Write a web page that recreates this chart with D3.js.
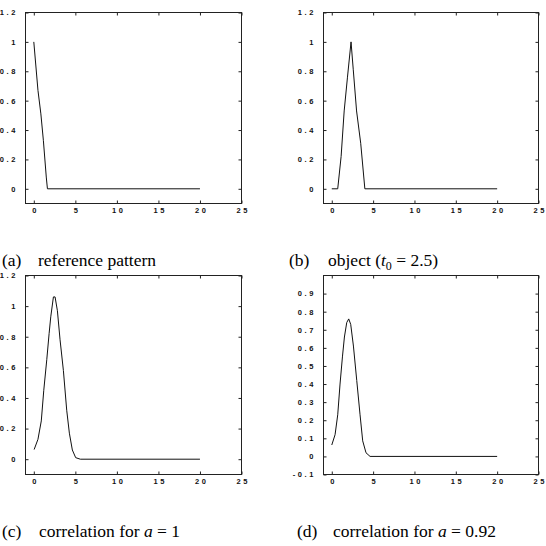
<html><head>
<meta charset="utf-8">
<script src="https://d3js.org/d3.v7.min.js"></script>
<style>
  body { margin: 0; background: #fff; }
  .tick text { font-family: "Liberation Sans", Arial, sans-serif; font-size: 7.5px; font-weight: bold; letter-spacing: 2.6px; fill: #111; }
  .cap { font-family: "Liberation Serif", "Times New Roman", serif; font-size: 17.5px; fill: #000; }
</style>
</head>
<body>
<div id="chart"></div>
<script>

// ---- data ----
var xTicks = [0, 5, 10, 15, 20, 25];
var yTicksA = [0, 0.2, 0.4, 0.6, 0.8, 1, 1.2];
var yTicksD = [-0.1, 0, 0.1, 0.2, 0.3, 0.4, 0.5, 0.6, 0.7, 0.8, 0.9];

// (a) reference pattern
var refX = [0, 0.5, 0.85, 1.15, 1.5, 1.64, 20];
var refY = [1, 0.67, 0.51, 0.33, 0.08, 0, 0];

// (b) object, t0 = 2.5
var objX = [0, 0.72, 1.13, 1.5, 1.9, 2.33, 2.6, 3.0, 3.5, 4.0, 20];
var objY = [0, 0, 0.22, 0.53, 0.76, 1, 0.81, 0.53, 0.31, 0, 0];

// (c) correlation, a = 1
var corrAX = [0.04, 0.5, 0.9, 1.2, 1.56, 1.84, 2.04, 2.36, 2.56, 2.84, 3.16, 3.56, 3.96, 4.28, 4.64, 5.04, 5.6, 20];
var corrAY = [0.063, 0.13, 0.25, 0.45, 0.65, 0.82, 0.93, 1.06, 1.06, 0.97, 0.78, 0.58, 0.32, 0.17, 0.06, 0.01, 0, 0];

// (d) correlation, a = 0.92
var corrBX = [0, 0.4, 0.72, 1.0, 1.29, 1.53, 1.81, 2.05, 2.29, 2.62, 3.02, 3.42, 3.74, 4.14, 4.63, 20];
var corrBY = [0.063, 0.12, 0.23, 0.40, 0.55, 0.66, 0.74, 0.76, 0.73, 0.61, 0.42, 0.23, 0.086, 0.02, 0, 0];

var svg = d3.select("#chart").append("svg")
    .attr("width", 546)
    .attr("height", 546);

// one little plot
function panel(box, yDomain, yTicks, xs, ys) {
  var x = d3.scaleLinear().domain([-1, 25]).range([box.x0, box.x1]);
  var y = d3.scaleLinear().domain(yDomain).range([box.y1, box.y0]);

  var fmt = function(d) { return String(+d.toFixed(2)).replace("-", "-"); };

  svg.append("g")
    .attr("transform", "translate(1.3," + box.y1 + ")")
    .call(d3.axisBottom(x).tickValues(xTicks).tickSize(-3).tickPadding(4).tickFormat(fmt))
    .call(function(g) { g.select(".domain").remove(); g.selectAll("line").attr("transform", "translate(-1.3,0)"); });

  svg.append("g")
    .attr("transform", "translate(0," + box.y0 + ")")
    .call(d3.axisTop(x).tickValues(xTicks).tickSize(-3).tickFormat(""))
    .call(function(g) { g.select(".domain").remove(); });

  svg.append("g")
    .attr("transform", "translate(" + (box.x0 + 1.5) + ",0)")
    .call(d3.axisLeft(y).tickValues(yTicks).tickSize(-3).tickPadding(9).tickFormat(fmt))
    .call(function(g) { g.select(".domain").remove(); g.selectAll("line").attr("transform", "translate(-1.5,0)"); });

  svg.append("g")
    .attr("transform", "translate(" + box.x1 + ",0)")
    .call(d3.axisRight(y).tickValues(yTicks).tickSize(-3).tickFormat(""))
    .call(function(g) { g.select(".domain").remove(); });

  svg.selectAll(".tick line").attr("stroke", "#222");

  // frame
  svg.append("rect")
    .attr("x", box.x0).attr("y", box.y0)
    .attr("width", box.x1 - box.x0).attr("height", box.y1 - box.y0)
    .attr("fill", "none").attr("stroke", "#222").attr("stroke-width", 1);

  var pts = xs.map(function(v, i) { return [v, ys[i]]; });
  svg.append("path")
    .datum(pts)
    .attr("fill", "none")
    .attr("stroke", "#111")
    .attr("stroke-width", 1)
    .attr("d", d3.line()
      .x(function(d) { return x(d[0]); })
      .y(function(d) { return y(d[1]); }));
}

panel({x0: 25.5, x1: 241.5, y0: 12.5, y1: 203.5}, [-0.1, 1.2], yTicksA, refX, refY);
panel({x0: 323.5, x1: 538.5, y0: 12.5, y1: 203.5}, [-0.1, 1.2], yTicksA, objX, objY);
panel({x0: 25.5, x1: 241.5, y0: 275.5, y1: 474.5}, [-0.1, 1.2], yTicksA, corrAX, corrAY);
panel({x0: 323.5, x1: 538.5, y0: 275.5, y1: 474.5}, [-0.1, 1.0], yTicksD, corrBX, corrBY);

// captions
function caption(x, y) {
  return svg.append("text").attr("class", "cap").attr("x", x).attr("y", y);
}

caption(2, 266).text("(a)");
caption(38, 266).text("reference pattern");

caption(289, 266).text("(b)");
var tb = caption(328, 266);
tb.append("tspan").text("object (");
tb.append("tspan").style("font-style", "italic").text("t");
tb.append("tspan").attr("dy", 4).style("font-size", "12px").text("0");
tb.append("tspan").attr("dy", -4).text(" = 2.5)");

caption(2, 537).text("(c)");
var tc = caption(39, 537);
tc.append("tspan").text("correlation for ");
tc.append("tspan").style("font-style", "italic").text("a");
tc.append("tspan").text(" = 1");

caption(297, 537).text("(d)");
var td = caption(333, 537);
td.append("tspan").text("correlation for ");
td.append("tspan").style("font-style", "italic").text("a");
td.append("tspan").text(" = 0.92");

</script>
</body></html>
